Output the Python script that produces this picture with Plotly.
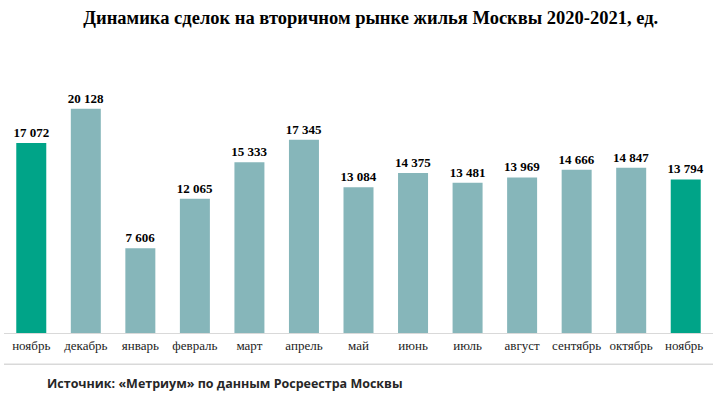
import plotly.graph_objects as go

months = ["ноябрь", "декабрь", "январь", "февраль", "март", "апрель", "май",
          "июнь", "июль", "август", "сентябрь", "октябрь", "ноябрь "]
values = [17072, 20128, 7606, 12065, 15333, 17345, 13084,
          14375, 13481, 13969, 14666, 14847, 13794]
labels = ["17 072", "20 128", "7 606", "12 065", "15 333", "17 345", "13 084",
          "14 375", "13 481", "13 969", "14 666", "14 847", "13 794"]
highlight = [True] + [False] * 11 + [True]

GREEN = "#00A488"
TEAL = "#86B6BA"
colors = [GREEN if h else TEAL for h in highlight]

serif = "Liberation Serif"

fig = go.Figure(go.Bar(
    x=months, y=values,
    marker=dict(color=colors, line=dict(width=0)),
    text=labels, textposition="outside", cliponaxis=False,
    textfont=dict(family=serif, size=13, color="#000000"),
    texttemplate="<b>%{text}</b>",
))

fig.update_layout(
    width=713, height=397,
    margin=dict(l=4, r=0, t=88, b=64),
    paper_bgcolor="white", plot_bgcolor="white",
    bargap=0.45,
    showlegend=False,
    uniformtext=dict(minsize=13, mode="show"),
    title=dict(text="<b>Динамика сделок на вторичном рынке жилья Москвы 2020-2021, ед.</b>",
               x=0.52, xanchor="center", y=0.957, yanchor="middle",
               font=dict(family=serif, size=18.5, color="#000000")),
    xaxis=dict(showline=True, linecolor="#D9D9D9", linewidth=1, ticks="",
               tickfont=dict(family=serif, size=13, color="#222222"),
               showgrid=False),
    yaxis=dict(range=[0, 22000], visible=False, showgrid=False),
    shapes=[dict(type="line", xref="paper", yref="paper", x0=0, x1=1.01,
                 y0=-0.128, y1=-0.128, line=dict(color="#D9D9D9", width=1.5))],
    annotations=[dict(text="<b>Источник: «Метриум» по данным Росреестра Москвы</b>",
                      xref="paper", yref="paper", x=0.058, xanchor="left",
                      y=-0.205, yanchor="middle", showarrow=False,
                      font=dict(family="Open Sans, sans-serif", size=12.5, color="#262626"))],
)

fig.write_html("out.html", config={"displayModeBar": False},
               post_script="document.body.style.margin='0';")
